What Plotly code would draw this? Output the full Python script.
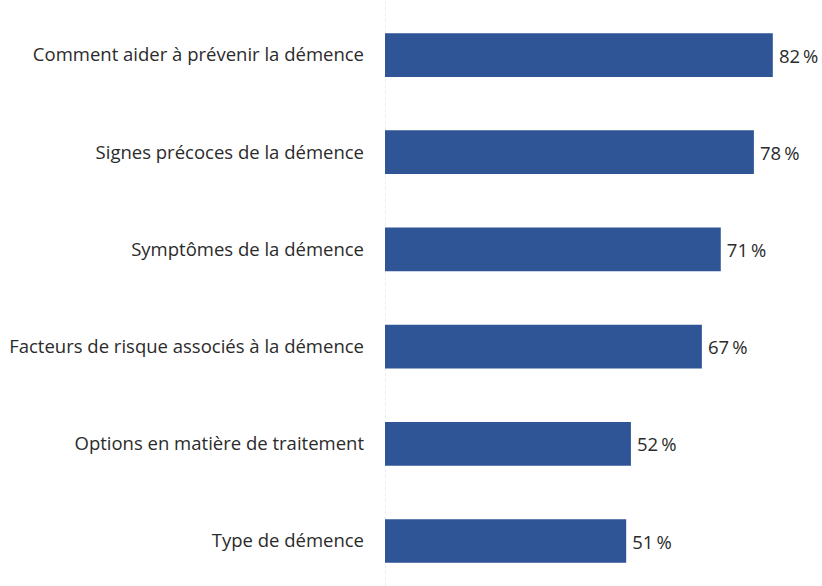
import plotly.graph_objects as go

# Topics, listed bottom to top
topics = [
    "Type de démence",
    "Options en matière de traitement",
    "Facteurs de risque associés à la démence",
    "Symptômes de la démence",
    "Signes précoces de la démence",
    "Comment aider à prévenir la démence",
]
percent = [51, 52, 67, 71, 78, 82]
value_labels = [f"\u2009{v}\u2009%" for v in percent]

BAR_COLOR = "#2F5597"
TEXT_COLOR = "#2B2B2B"
FONT = "Open Sans"
FONT_SIZE = 18.5

fig = go.Figure(
    go.Bar(
        y=topics,
        x=percent,
        orientation="h",
        width=0.45,
        marker=dict(color=BAR_COLOR, line=dict(width=0)),
        text=value_labels,
        textposition="outside",
        textfont=dict(family=FONT, size=FONT_SIZE, color=TEXT_COLOR),
        cliponaxis=False,
        hoverinfo="skip",
    )
)

# Dashed vertical baseline at zero
fig.add_shape(
    type="line",
    xref="x", yref="paper",
    x0=0, x1=0, y0=0, y1=1,
    line=dict(color="#D9D9D9", width=1, dash="dot"),
    layer="below",
)

fig.update_layout(
    width=822,
    height=586,
    margin=dict(l=385, r=0, t=0, b=0),
    paper_bgcolor="white",
    plot_bgcolor="white",
    showlegend=False,
    font=dict(family=FONT, size=FONT_SIZE, color=TEXT_COLOR),
    uniformtext=dict(minsize=FONT_SIZE, mode="show"),
    xaxis=dict(
        range=[0, 92.4],
        visible=False,
        showgrid=False,
        zeroline=False,
    ),
    yaxis=dict(
        type="category",
        categoryorder="array",
        categoryarray=topics,
        range=[-0.463, 5.566],
        showgrid=False,
        zeroline=False,
        showline=False,
        ticks="",
        ticklabelstandoff=20,
        tickfont=dict(family=FONT, size=FONT_SIZE, color=TEXT_COLOR),
    ),
)

fig.write_html("out.html")
